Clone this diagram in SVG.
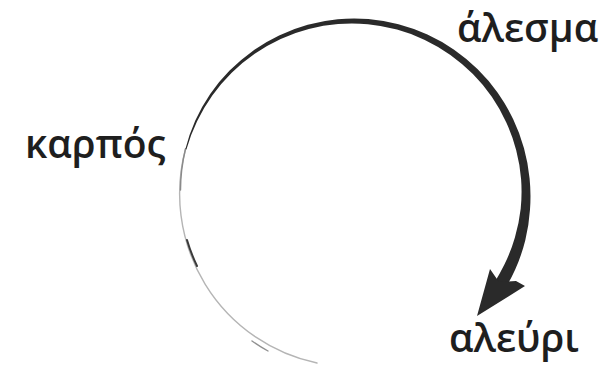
<svg xmlns="http://www.w3.org/2000/svg" width="606" height="365" viewBox="0 0 606 365">
<style>
.lbl{font-family:"Open Sans","Noto Sans","DejaVu Sans",sans-serif;font-size:39px;font-weight:600;fill:#1e1e1e}
.ink{fill:#2a2a2a}
.faint{fill:none;stroke:#b5b5b5;stroke-width:1.4;stroke-linecap:round}
.dark{fill:none;stroke:#3a3a3a;stroke-width:2;stroke-linecap:round}
</style>
<rect width="606" height="365" fill="#fff"/>
<g id="connectors">
<path class="faint" d="M185.5 149 A173 173 0 0 0 317 363"/>
<path class="faint" style="stroke:#8a8a8a" d="M185.5 149 A173 173 0 0 0 180.5 190"/>
<path class="dark" d="M187 240 A173 173 0 0 0 197 266"/>
<path class="faint" style="stroke:#909090" d="M252 341 A173 173 0 0 0 268 351"/>
<path class="ink" d="M185.4 149.1 A175 175 0 0 1 195.3 120.5 A175 175 0 0 1 210.2 94 A175 175 0 0 1 229.6 70.6 A175 175 0 0 1 252.8 50.9 A175 175 0 0 1 279.1 35.5 A175 175 0 0 1 307.7 24.8 A175 175 0 0 1 337.7 19.3 A175 175 0 0 1 368.3 19.1 A176 176 0 0 1 398.5 24.2 A176 176 0 0 1 427.4 34.5 A176 176 0 0 1 454.1 49.7 A176 176 0 0 1 477.7 69.3 A177 177 0 0 1 497.7 92.7 A177 177 0 0 1 513.2 119.3 A177 177 0 0 1 524 148.2 A177 177 0 0 1 529.6 178.5 A178 178 0 0 1 530 209.5 A178 178 0 0 1 525.3 240.2 A179 179 0 0 1 515.2 269.6 A179 179 0 0 1 505 289 L494.4 282.4 A167 167 0 0 0 504.4 264.6 A167 167 0 0 0 514.9 237.4 A168 168 0 0 0 520.7 208.7 A168 168 0 0 0 521.1 179.3 A169 169 0 0 0 516.2 150.3 A169 169 0 0 0 506.3 122.5 A169 169 0 0 0 491.8 96.8 A170 170 0 0 0 472.9 74.1 A170 170 0 0 0 450.4 54.9 A170 170 0 0 0 424.8 39.9 A170 170 0 0 0 397 29.6 A170 170 0 0 0 367.9 24.2 A171 171 0 0 0 338.1 24 A171 171 0 0 0 308.8 29 A171 171 0 0 0 280.7 38.9 A171 171 0 0 0 254.7 53.7 A172 172 0 0 0 231.7 72.7 A172 172 0 0 0 212.3 95.5 A172 172 0 0 0 197.1 121.3 A172 172 0 0 0 186.4 149.4 Z"/>
<path class="ink" d="M477 316 L490 269 L499 282 L516 281 L525 286 Z"/>
</g>
<g id="node-karpos"><text class="lbl" x="25" y="158">καρπός</text></g>
<g id="node-alesma"><text class="lbl" x="457" y="42">άλεσμα</text></g>
<g id="node-aleuri"><text class="lbl" x="449" y="352">αλεύρι</text></g>
</svg>
